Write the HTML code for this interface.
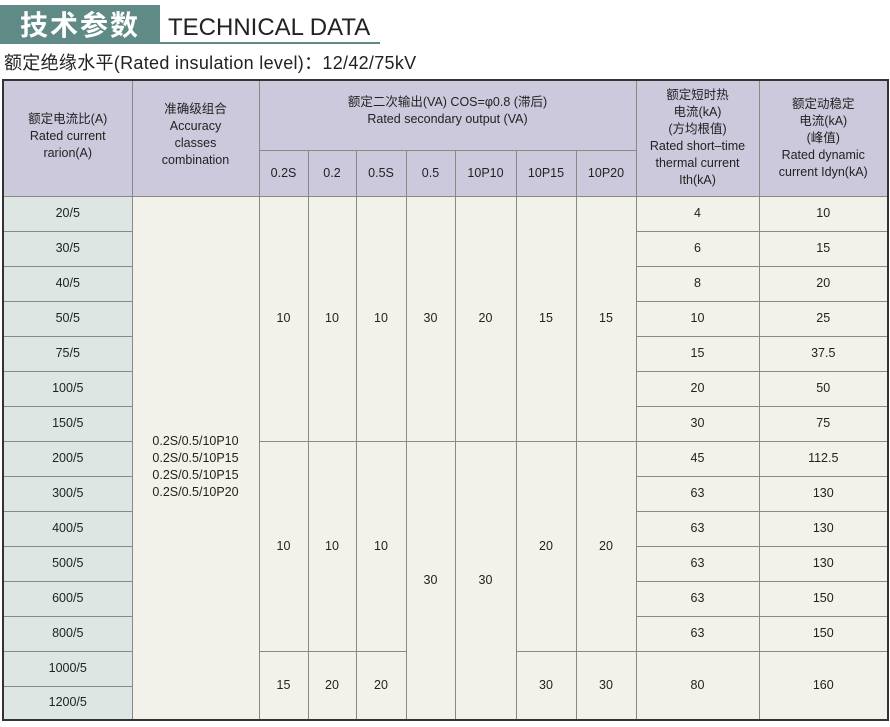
<!DOCTYPE html>
<html><head><meta charset="utf-8"><style>
body{margin:0;width:890px;height:727px;background:#fff;position:relative;overflow:hidden;font-family:"Liberation Sans","Noto Sans CJK SC",sans-serif;color:#222}
.tb{position:absolute;left:0;top:5px;width:160px;height:39px;background:#5f8a86;color:#fff;font-size:28px;font-weight:bold;line-height:39px;text-align:center;letter-spacing:2px;font-family:"Noto Sans CJK SC",sans-serif}
.tt{position:absolute;left:168px;top:13px;font-size:24px;color:#222;line-height:30px}
.ul{position:absolute;left:160px;top:42px;width:220px;height:2px;background:#5f8a86}
.sub{position:absolute;left:4px;top:52px;font-size:18px;line-height:22px;color:#222;letter-spacing:0.3px}
table{position:absolute;left:2px;top:79px;border-collapse:collapse;table-layout:fixed;border:2px solid #333}
td{border:1px solid #8a8a84;text-align:center;font-size:12.5px;line-height:17px;padding:0;background:#f2f2ea}
.h{background:#cdc9dd}
.c{background:#dde6e3}
</style></head><body>
<div class="tb">技术参数</div><div class="tt">TECHNICAL DATA</div><div class="ul"></div>
<div class="sub">额定绝缘水平(Rated insulation level)：12/42/75kV</div>
<table>
<colgroup><col style="width:129px"><col style="width:127px"><col style="width:49px"><col style="width:48px"><col style="width:50px"><col style="width:49px"><col style="width:61px"><col style="width:60px"><col style="width:60px"><col style="width:123px"><col style="width:129px"></colgroup>
<tr style="height:70px"><td class="h" rowspan="2" style="padding-top:14px">额定电流比(A)<br>Rated current<br>rarion(A)<br><br></td><td class="h" rowspan="2" style="padding-bottom:6px">准确级组合<br>Accuracy<br>classes<br>combination<br></td><td class="h" colspan="7" style="padding-bottom:8px">额定二次输出(VA) COS=φ0.8 (滞后)<br>Rated secondary output (VA)</td><td class="h" rowspan="2">额定短时热<br>电流(kA)<br>(方均根值)<br>Rated short–time<br>thermal current<br>Ith(kA)</td><td class="h" rowspan="2">额定动稳定<br>电流(kA)<br>(峰值)<br>Rated dynamic<br>current Idyn(kA)</td></tr>
<tr style="height:46px"><td class="h">0.2S</td><td class="h">0.2</td><td class="h">0.5S</td><td class="h">0.5</td><td class="h">10P10</td><td class="h">10P15</td><td class="h">10P20</td></tr>
<tr style="height:35px"><td class="c">20/5</td><td rowspan="15" style="padding-top:18px">0.2S/0.5/10P10<br>0.2S/0.5/10P15<br>0.2S/0.5/10P15<br>0.2S/0.5/10P20</td><td rowspan="7">10</td><td rowspan="7">10</td><td rowspan="7">10</td><td rowspan="7">30</td><td rowspan="7">20</td><td rowspan="7">15</td><td rowspan="7">15</td><td>4</td><td>10</td></tr>
<tr style="height:35px"><td class="c">30/5</td><td>6</td><td>15</td></tr>
<tr style="height:35px"><td class="c">40/5</td><td>8</td><td>20</td></tr>
<tr style="height:35px"><td class="c">50/5</td><td>10</td><td>25</td></tr>
<tr style="height:35px"><td class="c">75/5</td><td>15</td><td>37.5</td></tr>
<tr style="height:35px"><td class="c">100/5</td><td>20</td><td>50</td></tr>
<tr style="height:35px"><td class="c">150/5</td><td>30</td><td>75</td></tr>
<tr style="height:35px"><td class="c">200/5</td><td rowspan="6">10</td><td rowspan="6">10</td><td rowspan="6">10</td><td rowspan="8">30</td><td rowspan="8">30</td><td rowspan="6">20</td><td rowspan="6">20</td><td>45</td><td>112.5</td></tr>
<tr style="height:35px"><td class="c">300/5</td><td>63</td><td>130</td></tr>
<tr style="height:35px"><td class="c">400/5</td><td>63</td><td>130</td></tr>
<tr style="height:35px"><td class="c">500/5</td><td>63</td><td>130</td></tr>
<tr style="height:35px"><td class="c">600/5</td><td>63</td><td>150</td></tr>
<tr style="height:35px"><td class="c">800/5</td><td>63</td><td>150</td></tr>
<tr style="height:35px"><td class="c">1000/5</td><td rowspan="2">15</td><td rowspan="2">20</td><td rowspan="2">20</td><td rowspan="2">30</td><td rowspan="2">30</td><td rowspan="2">80</td><td rowspan="2">160</td></tr>
<tr style="height:34px"><td class="c">1200/5</td></tr>
</table>
</body></html>
